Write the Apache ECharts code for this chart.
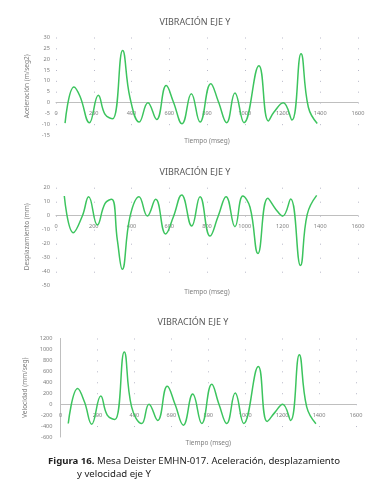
<!DOCTYPE html>
<html>
<head>
<meta charset="utf-8">
<script src="https://cdn.jsdelivr.net/npm/echarts@6/dist/echarts.min.js"></script>
<style>
html,body{margin:0;padding:0;background:#fff;}
#c{width:388px;height:500px;}
</style>
</head>
<body>
<div id="c"></div>
<script>
// ---- data (time in ms, value) ----
var accTime = [48,95,127,177,224,260,300,353,392,441,487,533,584,621,668,717,763,820,860,904,948,996,1075,1125,1155,1204,1250,1298,1337,1384];
var accVals = [-9.5,7.2,2.9,-9.3,3.4,-5.5,-7.5,24,2.2,-9,-0.1,-7.8,7.8,0.5,-9.8,4,-9,8.7,0.5,-9.3,4.4,-9.3,17,-8.5,-4.4,-0.1,-8.1,22.5,-2.2,-9.7];

var despTime = [44,92,140,173,219,260,295,325,351,392,440,484,528,581,622,666,719,763,816,860,901,948,990,1028,1070,1122,1165,1201,1243,1295,1331,1381];
var despVals = [14.1,-12.1,0,13.6,-6.6,8.8,11.7,-17.4,-38.3,-0.7,13.6,-0.2,11.7,-13,-0.7,14.8,-7.4,13.6,-14.5,0,13.6,-7.9,14,6,-27,12.4,4.5,-0.2,11.9,-35.6,1,14.5];

var velTime = [42,93,130,169,218,253,295,345,385,440,479,526,578,620,665,716,765,819,858,900,946,992,1071,1119,1161,1203,1246,1293,1333,1383];
var velVals = [-353,286,40,-365,151,-200,-279,954,-49,-353,0,-297,329,0,-383,184,-353,366,0,-353,202,-353,688,-316,-150,0,-297,901,-49,-358];

var xTicks = {min:0, max:1600, interval:200};
var accAxis = {min:-15, max:30, interval:5, name:'Aceleración (m/seg2)'};
var despAxis = {min:-50, max:20, interval:10, name:'Desplazamiento (mm)'};
var velAxis = {min:-600, max:1200, interval:200, name:'Velocidad (mm/seg)'};

var chartTitle = 'VIBRACIÓN EJE Y';
var xName = 'Tiempo (mseg)';
var captionBold = 'Figura 16.';
var captionRest = ' Mesa Deister EMHN-017. Aceleración, desplazamiento';
var captionLine2 = 'y velocidad eje Y';

function pairs(t, v){ return t.map(function(x,i){ return [x, v[i]]; }); }
function plain(v){ return String(v); }

var FONT = '"Noto Sans", "Open Sans", sans-serif';
var grids = [
  {left:56, top:37.5, width:302, height:97.5},
  {left:56, top:187.7, width:302, height:98},
  {left:60.5, top:338.5, width:295.5, height:98.5}
];
var yDefs = [accAxis, despAxis, velAxis];
var xNameGaps = [35, 73, 35];
var yNameGaps = [24, 24, 28];
var yLabelMargins = [6, 6, 8];
var showYLine = [false, false, true];

var xAxes = [], yAxes = [];
grids.forEach(function(g, i){
  var yd = yDefs[i];
  var nInt = (yd.max - yd.min) / yd.interval;
  var s = g.height / nInt;
  var zeroOffset = -g.height * (0 - yd.min) / (yd.max - yd.min);
  xAxes.push({
    type:'value', gridIndex:i, min:xTicks.min, max:xTicks.max, interval:xTicks.interval,
    position:'bottom', offset:zeroOffset,
    name:xName, nameLocation:'middle', nameGap:xNameGaps[i],
    nameTextStyle:{fontSize:6.5, color:'#7f7f7f', fontFamily:FONT},
    axisLine:{show:true, onZero:false, lineStyle:{color:'#bfbfbf', width:1}},
    axisTick:{show:false},
    axisLabel:{fontSize:5.6, color:'#7f7f7f', margin:8, fontFamily:FONT, formatter:plain},
    splitLine:{show:true, lineStyle:{color:'#b8b8c8', width:1, type:[1, s-1]}}
  });
  yAxes.push({
    type:'value', gridIndex:i, min:yd.min, max:yd.max, interval:yd.interval,
    name:yd.name, nameLocation:'middle', nameGap:yNameGaps[i],
    nameTextStyle:{fontSize:6.5, color:'#7f7f7f', fontFamily:FONT},
    axisLine:{show:showYLine[i], onZero:false, lineStyle:{color:'#bfbfbf', width:1}},
    axisTick:{show:false},
    axisLabel:{fontSize:5.6, color:'#7f7f7f', margin:yLabelMargins[i], fontFamily:FONT, formatter:plain},
    splitLine:{show:false}
  });
});

var seriesData = [pairs(accTime, accVals), pairs(despTime, despVals), pairs(velTime, velVals)];
var series = seriesData.map(function(d, i){
  return {type:'line', xAxisIndex:i, yAxisIndex:i, data:d, smooth:0.45, symbol:'none',
    lineStyle:{color:'#3cc45e', width:1.5}};
});

var titleTops = [18, 168, 318];
var titleX = [195, 195, 193];
var titles = titleTops.map(function(t, i){
  return {text:chartTitle, left:titleX[i], top:t, textAlign:'center', padding:0,
    textStyle:{fontSize:9, color:'#595959', fontWeight:'normal', fontFamily:FONT}};
});
titles.push({
  text:'{b|' + captionBold + '}' + captionRest, left:48, top:456, padding:0,
  textStyle:{fontSize:9.6, color:'#222222', fontWeight:'normal', fontFamily:FONT,
    rich:{b:{fontSize:9.6, fontWeight:'bold', color:'#222222', fontFamily:FONT}}}
});
titles.push({
  text:captionLine2, left:77, top:469, padding:0,
  textStyle:{fontSize:9.6, color:'#222222', fontWeight:'normal', fontFamily:FONT}
});

var chart = echarts.init(document.getElementById('c'), null, {renderer:'canvas'});
chart.setOption({
  animation:false,
  backgroundColor:'#ffffff',
  title:titles,
  grid:grids,
  xAxis:xAxes,
  yAxis:yAxes,
  series:series
});
</script>
</body>
</html>
